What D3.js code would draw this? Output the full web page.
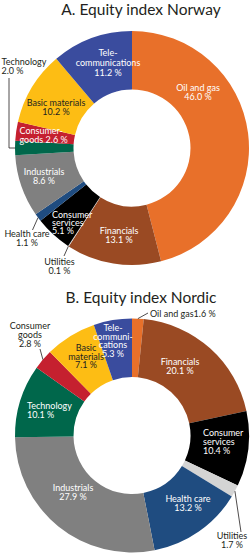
<!DOCTYPE html>
<html>
<head>
<meta charset="utf-8">
<title>Equity index Norway / Nordic</title>
<script src="https://cdn.jsdelivr.net/npm/d3@7"></script>
<style>
    body { margin: 0; background: #fff; }
    svg text { font-family: Lato, "Noto Sans", sans-serif; }
</style>
</head>
<body>
<svg id="chart"></svg>
<script>
// sectors and weights (%), read clockwise from 12 o'clock
const sectorsA = ["Oil and gas", "Financials", "Utilities", "Consumer services", "Health care",
    "Industrials", "Technology", "Consumer goods", "Basic materials", "Telecommunications"];
const valuesA = [46.0, 13.1, 0.1, 5.1, 1.1, 8.6, 2.0, 2.6, 10.2, 11.2];

const sectorsB = ["Oil and gas", "Financials", "Consumer services", "Utilities", "Health care",
    "Industrials", "Technology", "Consumer goods", "Basic materials", "Telecommunications"];
const valuesB = [1.6, 20.1, 10.4, 1.7, 13.2, 27.9, 10.1, 2.8, 7.1, 5.3];

const titles = ["A. Equity index Norway", "B. Equity index Nordic"];

const width = 250, height = 553;
const outerR = 117, innerR = 58.5;

const color = d3.scaleOrdinal()
    .domain(["Oil and gas", "Financials", "Utilities", "Consumer services", "Health care",
        "Industrials", "Technology", "Consumer goods", "Basic materials", "Telecommunications"])
    .range(["#E8702A", "#9A4A23", "#D4D4D4", "#000000", "#1F4C80",
        "#808080", "#00674B", "#C5202F", "#FDBD14", "#3A4C9E"]);

const dark = "#231F20";
const fmt = v => d3.format(".1f")(v) + " %";

// label layout: text lines ("{v}" = value), anchor point, alignment, colour, optional leader start
const labelsA = [
    { s: "Telecommunications", lines: ["Tele-", "communications", "{v}"], x: 108, y: 56, a: "middle", c: "#fff", lh: 9.8 },
    { s: "Oil and gas", lines: ["Oil and gas", "{v}"], x: 198, y: 91, a: "middle", c: "#fff" },
    { s: "Basic materials", lines: ["Basic materials", "{v}"], x: 56, y: 106, a: "middle", c: dark },
    { s: "Technology", lines: ["Technology", "{v}"], x: 1.5, y: 65, a: "start", c: dark, leader: [[9, 78], [9, null]] },
    { s: "Consumer goods", lines: ["Consumer-", "goods {v}"], x: 19.5, y: 134, a: "start", c: "#fff" },
    { s: "Industrials", lines: ["Industrials", "{v}"], x: 44, y: 175, a: "middle", c: "#fff" },
    { s: "Consumer services", lines: ["Consumer", "services", "{v}"], x: 52, y: 218, a: "start", c: "#fff", lh: 8 },
    { s: "Health care", lines: ["Health care", "{v}"], x: 27, y: 237, a: "middle", c: dark, leader: [[32.5, 230]] },
    { s: "Financials", lines: ["Financials", "{v}"], x: 119, y: 234, a: "middle", c: "#fff" },
    { s: "Utilities", lines: ["Utilities", "{v}"], x: 59.5, y: 265, a: "middle", c: dark, leader: [[64, 256]] }
];

const labelsB = [
    { s: "Oil and gas", lines: ["Oil and gas{v}"], x: 150, y: 317, a: "start", c: dark, leader: [[148, 313]] },
    { s: "Consumer goods", lines: ["Consumer", "goods", "{v}"], x: 30, y: 329, a: "middle", c: dark, leader: [[40, 349]] },
    { s: "Telecommunications", lines: ["Tele-", "communi-", "cations", "{v}"], x: 113, y: 331, a: "middle", c: "#fff", lh: 8.6 },
    { s: "Basic materials", lines: ["Basic", "materials", "{v}"], x: 86, y: 351, a: "middle", c: dark, lh: 8.7 },
    { s: "Financials", lines: ["Financials", "{v}"], x: 180, y: 365, a: "middle", c: "#fff" },
    { s: "Technology", lines: ["Technology", "{v}"], x: 27, y: 409, a: "start", c: "#fff" },
    { s: "Consumer services", lines: ["Consumer", "services", "{v}"], x: 203, y: 436, a: "start", c: "#fff", lh: 9 },
    { s: "Health care", lines: ["Health care", "{v}"], x: 188, y: 502, a: "middle", c: "#fff" },
    { s: "Industrials", lines: ["Industrials", "{v}"], x: 73, y: 491, a: "middle", c: "#fff" },
    { s: "Utilities", lines: ["Utilities", "{v}"], x: 232, y: 539, a: "middle", c: dark, leader: [[241, 532]] }
];

const svg = d3.select("#chart")
    .attr("width", width)
    .attr("height", height);

const pie = d3.pie().sort(null).value(d => d.v);
const arc = d3.arc().innerRadius(innerR).outerRadius(outerR);

function drawDonut(title, titleY, cx, cy, sectors, values, labels) {
    const data = sectors.map((s, i) => ({ s: s, v: values[i] }));
    const arcs = pie(data);

    svg.append("text")
        .attr("x", 141)
        .attr("y", titleY)
        .attr("text-anchor", "middle")
        .attr("font-size", 15.5)
        .attr("fill", dark)
        .text(title);

    const g = svg.append("g").attr("transform", "translate(" + cx + "," + cy + ")");

    g.selectAll("path")
        .data(arcs)
        .enter()
        .append("path")
        .attr("d", arc)
        .attr("fill", d => color(d.data.s));

    labels.forEach(function (lb) {
        const a = arcs.find(d => d.data.s === lb.s);
        const lh = lb.lh || 9.2;

        if (lb.leader) {
            const mid = (a.startAngle + a.endAngle) / 2;
            const ex = cx + outerR * Math.sin(mid);
            const ey = cy - outerR * Math.cos(mid);
            const pts = lb.leader.map(p => [p[0], p[1] === null ? ey : p[1]]);
            pts.push([ex, ey]);
            svg.append("path")
                .attr("d", d3.line()(pts))
                .attr("fill", "none")
                .attr("stroke", dark)
                .attr("stroke-width", 0.8);
        }

        const t = svg.append("text")
            .attr("x", lb.x)
            .attr("y", lb.y)
            .attr("text-anchor", lb.a)
            .attr("font-size", 9)
            .attr("fill", lb.c);
        lb.lines.forEach(function (line, i) {
            t.append("tspan")
                .attr("x", lb.x)
                .attr("y", lb.y + i * lh)
                .text(line.replace("{v}", fmt(a.data.v)));
        });
    });
}

drawDonut(titles[0], 15, 132, 148, sectorsA, valuesA, labelsA);
drawDonut(titles[1], 303, 132, 435.5, sectorsB, valuesB, labelsB);
</script>
</body>
</html>
